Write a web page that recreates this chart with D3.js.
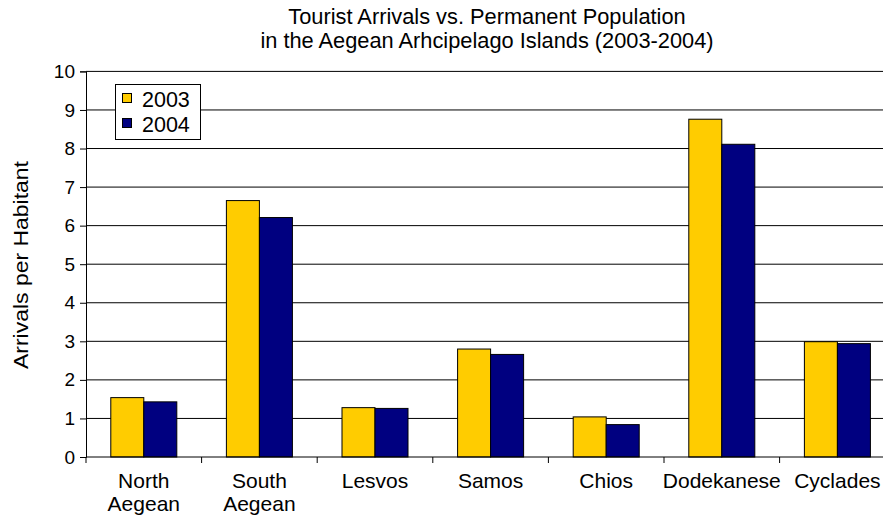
<!DOCTYPE html>
<html>
<head>
<meta charset="utf-8">
<script src="https://cdn.jsdelivr.net/npm/d3@7"></script>
<style>
  body { margin: 0; background: #fff; }
  svg { display: block; font-family: "Liberation Sans", Arial, sans-serif; }
</style>
</head>
<body>
<script>
// chart data
const categories = ['North\nAegean', 'South\nAegean', 'Lesvos', 'Samos', 'Chios', 'Dodekanese', 'Cyclades'];
const values2003 = [1.54, 6.65, 1.28, 2.80, 1.04, 8.76, 2.99];
const values2004 = [1.43, 6.21, 1.26, 2.66, 0.84, 8.11, 2.94];
const seriesNames = ['2003', '2004'];
const yTicks = [0, 1, 2, 3, 4, 5, 6, 7, 8, 9, 10];

const WIDTH = 883;
const HEIGHT = 515;
const COLORS = ['#FFCC00', '#000080'];

const svg = d3.select('body').append('svg')
    .attr('width', WIDTH)
    .attr('height', HEIGHT);

const x0 = d3.scaleBand()
    .domain(categories)
    .range([86, 86 + 7 * 115.6])
    .paddingInner(0.429)
    .paddingOuter(0.2145);

const x1 = d3.scaleBand()
    .domain(seriesNames)
    .range([0, x0.bandwidth()]);

const y = d3.scaleLinear()
    .domain([0, 10])
    .range([457, 71.4]);

// gridlines
svg.append('g')
  .selectAll('line')
  .data(yTicks.slice(1))
  .enter().append('line')
    .attr('x1', 86).attr('x2', WIDTH)
    .attr('y1', d => y(d)).attr('y2', d => y(d))
    .attr('stroke', '#000').attr('stroke-width', 1);

// bars
const rows = categories.map((c, i) => ({cat: c, vals: [values2003[i], values2004[i]]}));
const groups = svg.append('g').selectAll('g')
    .data(rows)
    .enter().append('g')
    .attr('transform', d => 'translate(' + x0(d.cat) + ',0)');

groups.selectAll('rect')
    .data(d => d.vals.map((v, j) => ({key: seriesNames[j], v: v, j: j})))
    .enter().append('rect')
    .attr('x', d => x1(d.key))
    .attr('y', d => y(d.v))
    .attr('width', x1.bandwidth())
    .attr('height', d => y(0) - y(d.v))
    .attr('fill', d => COLORS[d.j])
    .attr('stroke', '#000')
    .attr('stroke-width', 1);

// y axis
const yAxis = d3.axisLeft(y).tickValues(yTicks).tickSize(6).tickPadding(5).tickFormat(d3.format('d'));
const gy = svg.append('g').attr('transform', 'translate(86,0)').call(yAxis);
gy.select('.domain').attr('stroke', '#000');
gy.selectAll('.tick line').attr('stroke', '#000');
gy.selectAll('text').attr('font-size', 19).attr('fill', '#000')
    .attr('font-family', '"Liberation Sans", Arial, sans-serif');

// x axis: line + ticks at category boundaries
svg.append('line')
    .attr('x1', 86).attr('x2', WIDTH)
    .attr('y1', y(0)).attr('y2', y(0))
    .attr('stroke', '#000');

const step = x0.step();
svg.append('g').selectAll('line')
    .data(d3.range(categories.length + 1))
    .enter().append('line')
    .attr('x1', i => 86 + i * step).attr('x2', i => 86 + i * step)
    .attr('y1', y(0)).attr('y2', y(0) + 6)
    .attr('stroke', '#000');

// category labels (two-line ones split on \n)
const labels = svg.append('g').selectAll('text')
    .data(categories)
    .enter().append('text')
    .attr('x', d => x0(d) + x0.bandwidth() / 2)
    .attr('y', 488)
    .attr('text-anchor', 'middle')
    .attr('font-size', 21)
    .attr('fill', '#000');

labels.each(function(d) {
  const parts = d.split('\n');
  const t = d3.select(this);
  parts.forEach((p, i) => {
    t.append('tspan')
      .attr('x', x0(d) + x0.bandwidth() / 2)
      .attr('dy', i === 0 ? 0 : 23)
      .text(p);
  });
});

// title
const title = svg.append('text')
    .attr('x', 487)
    .attr('y', 24)
    .attr('text-anchor', 'middle')
    .attr('font-size', 21.8)
    .attr('fill', '#000');
title.append('tspan').attr('x', 487).text('Tourist Arrivals vs. Permanent Population');
title.append('tspan').attr('x', 487).attr('dy', 24).text('in the Aegean Arhcipelago Islands (2003-2004)');

// y axis label
svg.append('text')
    .attr('transform', 'translate(28,265) rotate(-90)')
    .attr('text-anchor', 'middle')
    .attr('font-size', 21)
    .attr('textLength', 208)
    .attr('lengthAdjust', 'spacingAndGlyphs')
    .attr('fill', '#000')
    .text('Arrivals per Habitant');

// legend
const legend = svg.append('g');
legend.append('rect')
    .attr('x', 115.5).attr('y', 84.5)
    .attr('width', 85).attr('height', 55)
    .attr('fill', '#fff').attr('stroke', '#000');

const items = legend.selectAll('g.item')
    .data(seriesNames)
    .enter().append('g')
    .attr('class', 'item')
    .attr('transform', (d, i) => 'translate(0,' + (i * 25) + ')');

items.append('rect')
    .attr('x', 122.5).attr('y', 93.5)
    .attr('width', 9).attr('height', 9)
    .attr('fill', (d, i) => COLORS[i])
    .attr('stroke', '#000');

items.append('text')
    .attr('x', 142).attr('y', 107)
    .attr('font-size', 21.5)
    .attr('fill', '#000')
    .text(d => d);
</script>
</body>
</html>
